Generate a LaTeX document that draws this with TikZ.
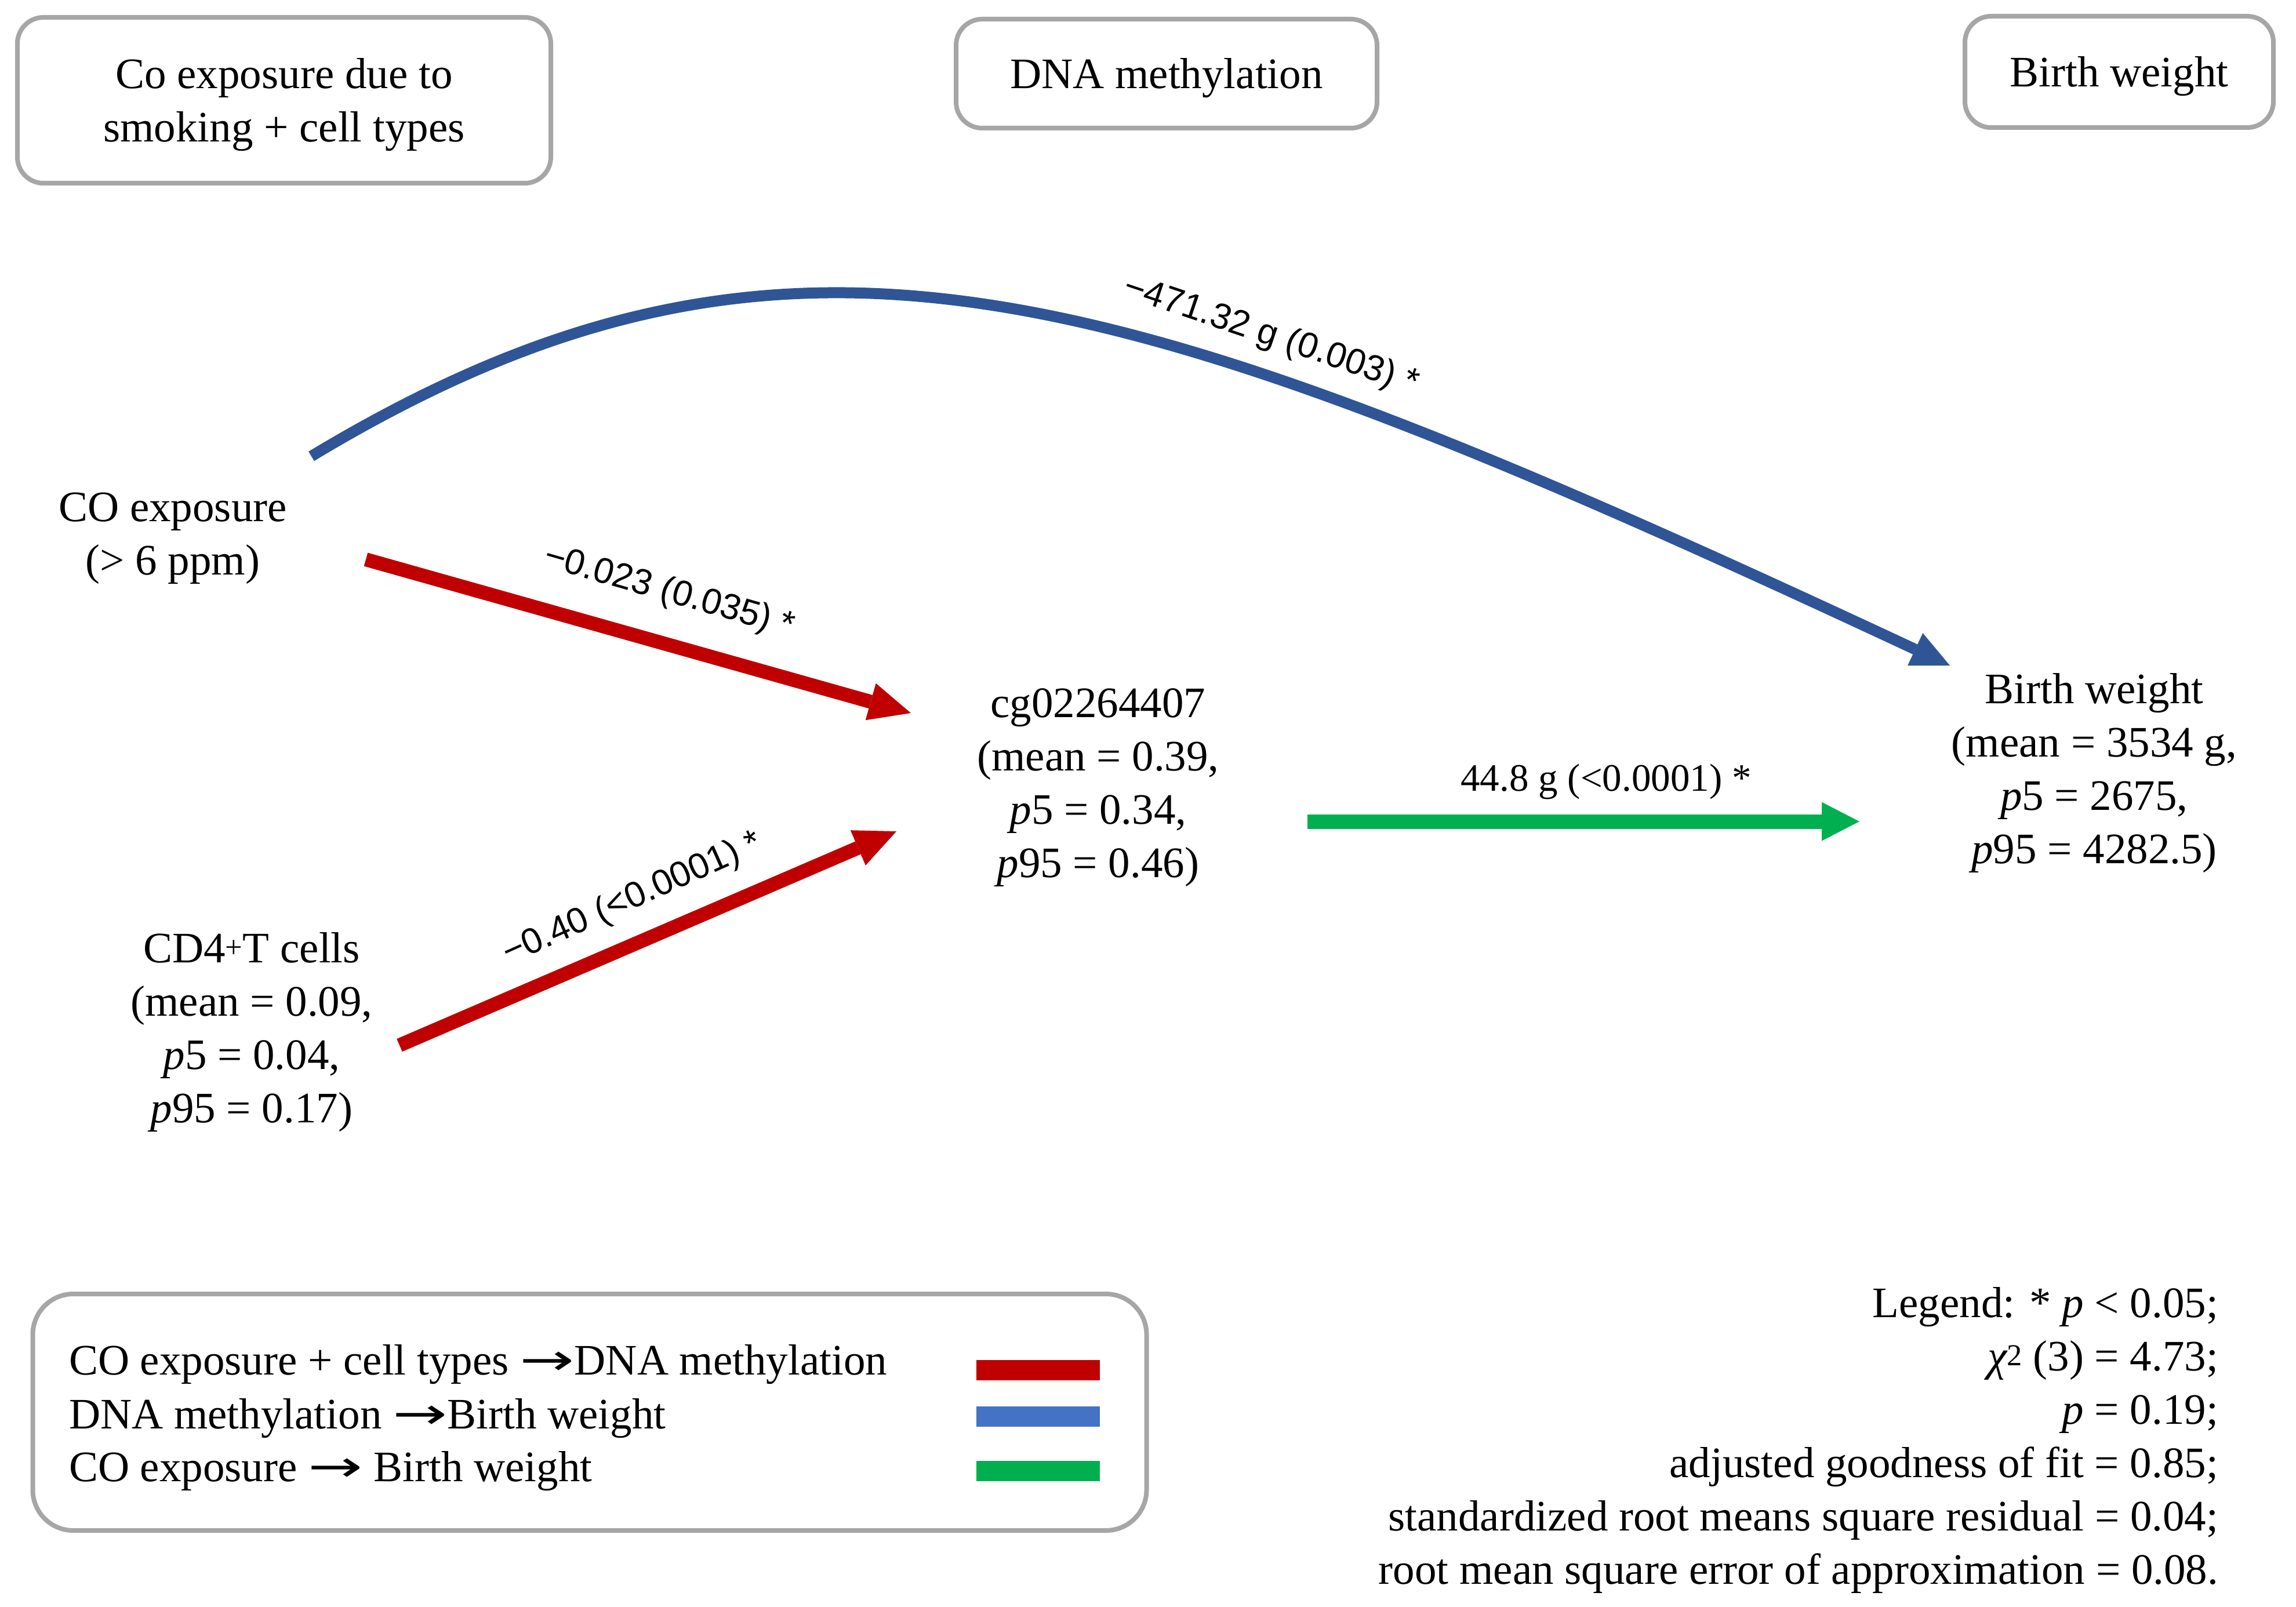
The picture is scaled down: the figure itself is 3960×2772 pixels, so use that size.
\documentclass[tikz,border=0pt]{standalone}
\usepackage{fontspec}
\setmainfont{Liberation Serif}
\newfontfamily\labelsans{Liberation Sans}
\newfontfamily\arrowfont{DejaVu Sans}
\newcommand{\legarrow}{\scalebox{1.5}[1]{\arrowfont →}}
\usetikzlibrary{arrows.meta}
\definecolor{boxgray}{RGB}{166,166,166}
\definecolor{redarr}{RGB}{192,0,0}
\definecolor{bluearr}{RGB}{47,85,151}
\definecolor{greenarr}{RGB}{0,176,80}
\definecolor{legblue}{RGB}{68,114,196}
\begin{document}
\begin{tikzpicture}[x=1pt,y=-1pt,
  every node/.style={inner sep=0pt,outer sep=0pt},
  txt/.style={font=\fontsize{75}{92}\selectfont, align=center},
  hdrbox/.style={draw=boxgray, line width=8pt, rounded corners=45pt, fill=white},
  effect/.style={line width=24pt, -{Triangle[length=72pt,width=66pt,line width=0pt]}},
  coef/.style={font=\labelsans\fontsize{62}{70}\selectfont},
  swatchbox/.style={minimum width=213pt, minimum height=35pt}
]
\useasboundingbox (0,0) rectangle (3960,2772);

% header boxes
\node[hdrbox, minimum width=920pt, minimum height=286pt] (hdr1) at (490,173) {};
\node[hdrbox, minimum width=726pt, minimum height=188pt] (hdr2) at (2012,127) {};
\node[hdrbox, minimum width=532pt, minimum height=192pt] (hdr3) at (3655,124) {};
\node[txt] (hdr1txt) at ([yshift=-8pt]hdr1.center) {Co exposure due to\\smoking + cell types};
\node[txt] (hdr2txt) at ([yshift=-8pt]hdr2.center) {DNA methylation};
\node[txt] (hdr3txt) at ([yshift=-8pt]hdr3.center) {Birth weight};

% variable nodes
\node[txt] (co) at (298,929) {CO exposure\\(> 6 ppm)};
\node[txt] (cd4) at (434,1780) {CD4\textsuperscript{+}T cells\\(mean = 0.09,\\\textit{p}5 = 0.04,\\\textit{p}95 = 0.17)};
\node[txt] (cg) at (1894,1359) {cg02264407\\(mean = 0.39,\\\textit{p}5 = 0.34,\\\textit{p}95 = 0.46)};
\node[txt] (bw) at (3612,1333) {Birth weight\\(mean = 3534 g,\\\textit{p}5 = 2675,\\\textit{p}95 = 4282.5)};

% connector ends
\coordinate (co-a) at (631,965);
\coordinate (cg-a) at (1571,1230);
\coordinate (cd4-a) at (689,1803);
\coordinate (cg-b) at (1546,1434);
\coordinate (cg-c) at (2255,1417);
\coordinate (bw-a) at (3207,1417);
\coordinate (co-b) at (537,787);
\coordinate (bw-b) at (3363,1148);

% arrows
\draw[effect, redarr] (co-a) -- (cg-a);
\draw[effect, redarr] (cd4-a) -- (cg-b);
\draw[greenarr, line width=25pt, -{Triangle[length=65pt,width=67pt,line width=0pt]}] (cg-c) -- (bw-a);
\draw[bluearr, line width=19pt, -{Triangle[length=66pt,width=62pt,line width=0pt]}] (co-b) .. controls (1362,290) and (1931,480) .. (bw-b);

% coefficient labels
\node[coef, rotate=-16] (lab1) at (1154,1022) {−0.023 (0.035) *};
\node[coef, rotate=24] (lab2) at (1091,1551) {−0.40 (<0.0001) *};
\node[txt, font=\fontsize{67}{80}\selectfont] (lab3) at (2770,1348) {44.8 g (<0.0001) *};
\node[coef, rotate=-18.6] (lab4) at (2192,580) {−471.32 g (0.003) *};

% legend box
\node[draw=boxgray, line width=8pt, rounded corners=70pt, minimum width=1921pt, minimum height=408pt] (legbox) at (1017,2436) {};
\node[txt, anchor=base west] (leg1) at (119,2371) {CO exposure + cell types \legarrow DNA methylation};
\node[txt, anchor=base west] (leg2) at (119,2464) {DNA methylation \legarrow Birth weight};
\node[txt, anchor=base west] (leg3) at (119,2555) {CO exposure \legarrow{} Birth weight};
\node[swatchbox, fill=redarr] (sw1) at (1790,2363) {};
\node[swatchbox, fill=legblue] (sw2) at (1790,2443) {};
\node[swatchbox, fill=greenarr] (sw3) at (1790,2537) {};

% statistics
\node[txt, align=right, anchor=east] (stats) at (3826,2484) {Legend: * \textit{p} < 0.05;\\{\itshape χ}\textsuperscript{2} (3) = 4.73;\\\textit{p} = 0.19;\\adjusted goodness of fit = 0.85;\\standardized root means square residual = 0.04;\\root mean square error of approximation = 0.08.};
\end{tikzpicture}
\end{document}
